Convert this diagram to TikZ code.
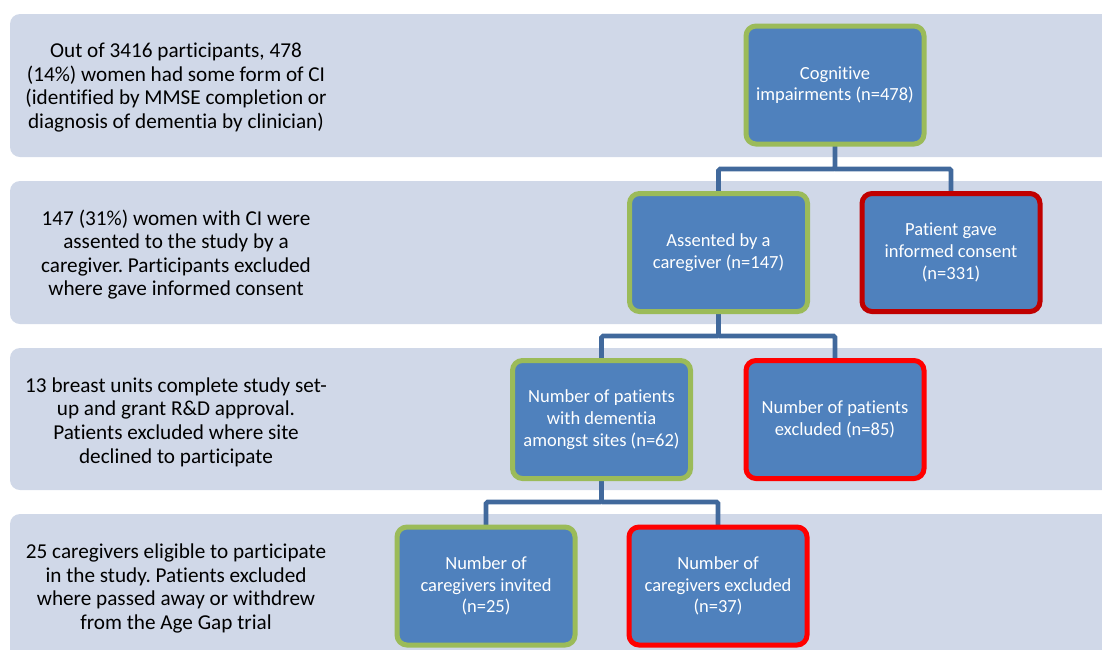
\documentclass[tikz,border=0pt]{standalone}
\usepackage{fontspec}
\setmainfont{Carlito}[Ligatures=NoCommon]
\frenchspacing
\usetikzlibrary{backgrounds}
\pgfdeclarelayer{bandlayer}
\pgfsetlayers{bandlayer,background,main}
\definecolor{bandfill}{HTML}{D0D8E8}
\definecolor{boxfill}{HTML}{4F81BD}
\definecolor{okline}{HTML}{9BBB59}
\definecolor{darkred}{HTML}{C00000}
\definecolor{brightred}{HTML}{FF0000}
\definecolor{connline}{HTML}{41699C}
\tikzset{
  band/.style={fill=bandfill, rounded corners=10pt},
  bandtext/.style={align=center, text=black, font=\fontsize{21.2}{23.6}\selectfont},
  stagebox/.style={fill=boxfill, rounded corners=10pt, line width=5pt,
    minimum width=178pt, minimum height=118pt, inner sep=0pt,
    align=center, text=white, font=\fontsize{18.5}{21.7}\selectfont},
  keepbox/.style={stagebox, draw=okline},
  dropbox/.style={stagebox, draw=darkred},
  lostbox/.style={stagebox, draw=brightred},
  conn/.style={draw=connline, line width=4.6pt, rounded corners=1.5pt}
}
\begin{document}
\begin{tikzpicture}[x=1pt, y=-1pt]
\useasboundingbox (0,0) rectangle (1102,649);
\clip (0,0) rectangle (1102,649);

% horizontal bands, one per stage
\begin{pgfonlayer}{bandlayer}
\fill[band] (10,14) rectangle (1120,157);
\fill[band] (10,181) rectangle (1120,324);
\fill[band] (10,348) rectangle (1120,490);
\fill[band] (10,514) rectangle (1120,680);
\end{pgfonlayer}

% stage descriptions
\node[bandtext] (t1) at (176,87.5) {Out of 3416 participants, 478\\(14\%) women had some form of CI\\(identified by MMSE completion or\\diagnosis of dementia by clinician)};
\node[bandtext] (t2) at (176,254.5) {147 (31\%) women with CI were\\assented to the study by a\\caregiver. Participants excluded\\where gave informed consent};
\node[bandtext] (t3) at (176,422) {13 breast units complete study set-\\up and grant R\&D approval.\\Patients excluded where site\\declined to participate};
\node[bandtext] (t4) at (176,588.5) {25 caregivers eligible to participate\\in the study. Patients excluded\\where passed away or withdrew\\from the Age Gap trial};

% flow boxes
\node[keepbox] (b1) at (835,85) {Cognitive\\impairments (n=478)};
\node[keepbox] (b2) at (718.5,252.5) {Assented by a\\caregiver (n=147)};
\node[dropbox] (b3) at (951,252.5) {Patient gave\\informed consent\\(n=331)};
\node[keepbox] (b4) at (601.5,419.5) {Number of patients\\with dementia\\amongst sites (n=62)};
\node[lostbox] (b5) at (835,419.5) {Number of patients\\excluded (n=85)};
\node[keepbox] (b6) at (486,586) {Number of\\caregivers invited\\(n=25)};
\node[lostbox] (b7) at (718,586) {Number of\\caregivers excluded\\(n=37)};

% bus levels between bands
\coordinate (bus1) at (0,169);
\coordinate (bus2) at (0,336);
\coordinate (bus3) at (0,502);

% branch connectors, kept behind the boxes
\begin{pgfonlayer}{background}
\path[conn] (b1.center) -- (b1.center |- bus1) -| (b2.center);
\path[conn] (b1.center |- bus1) -| (b3.center);
\path[conn] (b2.center) -- (b2.center |- bus2) -| (b4.center);
\path[conn] (b2.center |- bus2) -| (b5.center);
\path[conn] (b4.center) -- (b4.center |- bus3) -| (b6.center);
\path[conn] (b4.center |- bus3) -| (b7.center);
\end{pgfonlayer}
\end{tikzpicture}
\end{document}
